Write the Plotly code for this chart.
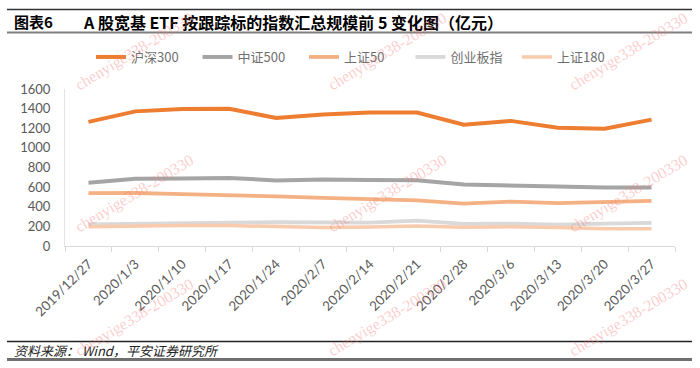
import plotly.graph_objects as go

dates = ["2019/12/27", "2020/1/3", "2020/1/10", "2020/1/17", "2020/1/24", "2020/2/7",
         "2020/2/14", "2020/2/21", "2020/2/28", "2020/3/6", "2020/3/13", "2020/3/20", "2020/3/27"]
hs300 = [1265, 1372, 1397, 1398, 1305, 1339, 1360, 1360, 1237, 1275, 1205, 1195, 1288]
zz500 = [644, 686, 688, 694, 668, 678, 672, 670, 627, 622, 607, 595, 595]
sz50 = [539, 540, 528, 512, 505, 490, 480, 465, 432, 452, 437, 452, 460]
cyb = [220, 228, 235, 237, 242, 243, 238, 258, 226, 228, 218, 228, 235]
sz180 = [197, 204, 208, 208, 197, 188, 194, 203, 190, 197, 188, 177, 177]

names = ["沪深300", "中证500", "上证50", "创业板指", "上证180"]
series = [hs300, zz500, sz50, cyb, sz180]
colors = ["#ED7D31", "#A5A5A5", "#F4B183", "#D9D9D9", "#F8CBAD"]
widths = [4, 4, 3.8, 3.8, 3.5]

fig = go.Figure()
for n, s, c, w in zip(names, series, colors, widths):
    fig.add_trace(go.Scatter(x=dates, y=s, name=n, mode="lines",
                             line=dict(color=c, width=w)))

axis_font = dict(family="Lato, Liberation Sans, sans-serif", size=13, color="#595959")
fig.update_layout(
    width=700, height=368,
    margin=dict(l=65, r=25, t=89, b=122, autoexpand=False),
    paper_bgcolor="white", plot_bgcolor="white",
    showlegend=True,
    legend=dict(orientation="h", xref="container", yref="container",
                x=91 / 700, y=1 - 57 / 368, xanchor="left", yanchor="middle",
                font=dict(family="Noto Sans CJK SC, sans-serif", size=13, color="#6f6f6f"),
                entrywidth=61.5, entrywidthmode="pixels", itemwidth=30,
                bgcolor="rgba(0,0,0,0)"),
    xaxis=dict(type="category", range=[-0.5, 12.5], tickson="boundaries",
               ticks="outside", ticklen=5, tickcolor="#D9D9D9", automargin=False,
               showline=True, linecolor="#D9D9D9", linewidth=1, ticklabelstandoff=4,
               showgrid=False, tickangle=-45, tickfont=dict(axis_font, size=13.3)),
    yaxis=dict(range=[0, 1600], dtick=200, showgrid=False, zeroline=False,
               showline=True, linecolor="#E4E4E4", linewidth=1, automargin=False,
               ticks="", ticklabelstandoff=11, tickfont=axis_font),
)

PW, PH, L, B = 610, 157, 65, 246

def px(xp):
    return (xp - L) / PW

def py(yp):
    return (B - yp) / PH

cjk = "Noto Sans CJK SC, sans-serif"
fig.add_annotation(text="<b>图表6</b>", xref="paper", yref="paper",
                   x=px(12), y=py(21.5), xanchor="left", yanchor="middle",
                   showarrow=False, font=dict(family=cjk, size=15, color="#000"))
fig.add_annotation(text="<b>A 股宽基 ETF 按跟踪标的指数汇总规模前 5 变化图（亿元）</b>",
                   xref="paper", yref="paper", x=px(81), y=py(21.5),
                   xanchor="left", yanchor="middle",
                   showarrow=False, font=dict(family=cjk, size=16, color="#000"))
fig.add_annotation(text="<i>资料来源： Wind，平安证券研究所</i>", xref="paper", yref="paper",
                   x=px(12), y=py(350), xanchor="left", yanchor="middle",
                   showarrow=False, font=dict(family=cjk, size=13, color="#222"))

def hline(ypx, color, w):
    fig.add_shape(type="line", xref="paper", yref="paper",
                  x0=px(7), x1=px(692), y0=py(ypx), y1=py(ypx),
                  line=dict(color=color, width=w))

hline(9.5, "#333333", 1.3)
hline(32.5, "#7f7f7f", 2)
hline(341.5, "#222222", 1.3)
hline(359.5, "#6f6f6f", 3)

for cx in [134, 387, 628]:
    for cy in [52, 194, 318]:
        fig.add_annotation(text="chenyige338-200330", xref="paper", yref="paper",
                           x=px(cx), y=py(cy), xanchor="center", yanchor="middle",
                           textangle=-31, showarrow=False,
                           font=dict(family="Liberation Serif, serif", size=16,
                                     color="rgba(245,120,120,0.38)"))

fig.write_html("out.html", config={"displayModeBar": False},
               post_script="document.body.style.margin='0';document.body.style.overflow='hidden';")
